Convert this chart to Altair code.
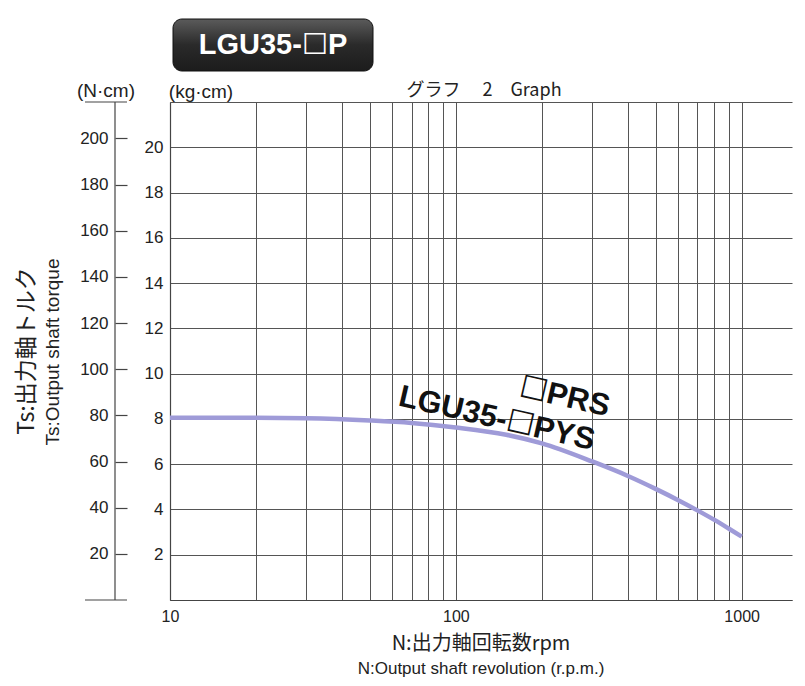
import altair as alt
import pandas as pd

# ---- data ----
rpm = [10, 20, 30, 50, 70, 100, 150, 200, 300, 400, 500, 600, 700, 800, 900, 1000]
torque_kgcm = [8.05, 8.05, 8.03, 7.93, 7.82, 7.62, 7.30, 6.92, 6.12, 5.48, 4.91,
               4.41, 3.96, 3.55, 3.16, 2.80]

x_grid = [10, 20, 30, 40, 50, 60, 70, 80, 90,
          100, 200, 300, 400, 500, 600, 700, 800, 900, 1000]
x_labels = [10, 100, 1000]
kg_ticks = [0, 2, 4, 6, 8, 10, 12, 14, 16, 18, 20, 22]
ncm_ticks = [20, 40, 60, 80, 100, 120, 140, 160, 180, 200]

KG_TO_NCM = 9.80665
Y_MAX = 22
X_DOMAIN = [10, 1500]

W, H = 622, 498
LAT = "Liberation Sans, DejaVu Sans, Noto Sans CJK JP"
JP = "Noto Sans CJK JP, Liberation Sans"
INK = "#222222"
AX = "#444444"

df = pd.DataFrame({"rpm": rpm, "torque": torque_kgcm})
one = pd.DataFrame({"_": [0]})

xscale = alt.Scale(type="log", domain=X_DOMAIN, nice=False)
yscale = alt.Scale(domain=[0, Y_MAX], nice=False, zero=False)

label_expr_x = " || ".join(f"datum.value == {v}" for v in x_labels)

curve = alt.Chart(df).mark_line(
    color="#9f9bd8", strokeWidth=4.5, interpolate="monotone"
).encode(
    x=alt.X("rpm:Q", scale=xscale, axis=alt.Axis(
        values=x_grid, grid=True, gridColor="#555555", gridWidth=1,
        ticks=False, domainColor=AX, domainWidth=1.2, format="d",
        labelExpr=f"({label_expr_x}) ? datum.label : ''",
        labelOverlap=False, labelFlush=False, labelBound=False,
        labelFont=LAT, labelFontSize=16, labelColor=INK, labelPadding=8,
        title=None)),
    y=alt.Y("torque:Q", scale=yscale, axis=alt.Axis(
        values=kg_ticks, grid=True, gridColor="#555555", gridWidth=1,
        ticks=False, domainColor=AX, domainWidth=1.2,
        labelExpr=f"datum.value == 0 || datum.value == {Y_MAX} ? '' : datum.label",
        labelOverlap=False, labelFont=LAT, labelFontSize=17, labelColor=INK,
        labelPadding=7, title=None)),
)

def text(t, x, y, size, font=LAT, weight="normal", angle=0, color=INK, align="center"):
    return alt.Chart(one).mark_text(
        text=t, font=font, fontSize=size, fontWeight=weight, angle=angle,
        color=color, align=align, baseline="middle"
    ).encode(x=alt.value(x), y=alt.value(y))

def rule(x, x2, y, y2, color=AX, width=1.2):
    return alt.Chart(one).mark_rule(color=color, strokeWidth=width).encode(
        x=alt.value(x), x2=alt.value(x2), y=alt.value(y), y2=alt.value(y2))

# curve labels (placed in data coordinates)
lab_pys = alt.Chart(one).mark_text(
    text="LGU35-☐PYS", font=LAT, fontSize=31, fontWeight="bold", angle=13,
    color="#111111", align="center", baseline="middle"
).encode(x=alt.datum(139), y=alt.datum(8.0))
lab_prs = alt.Chart(one).mark_text(
    text="☐PRS", font=LAT, fontSize=31, fontWeight="bold", angle=13,
    color="#111111", align="center", baseline="middle"
).encode(x=alt.datum(240), y=alt.datum(8.95))

badge_fill = alt.Gradient(
    gradient="linear",
    stops=[alt.GradientStop(color="#5b5b5b", offset=0),
           alt.GradientStop(color="#2a2a2a", offset=0.5),
           alt.GradientStop(color="#1c1c1c", offset=1)],
    x1=0, x2=0, y1=0, y2=1)
badge = alt.Chart(one).mark_rect(
    cornerRadius=9, fill=badge_fill, stroke="#111111", strokeWidth=1
).encode(x=alt.value(3), x2=alt.value(203), y=alt.value(-83), y2=alt.value(-31))
badge_text = text("LGU35-☐P", 103, -57, 29, weight="bold", color="#ffffff")

decor = [
    rule(-55, -55, 0, H),          # N·cm axis line
    rule(-85, -43, 0, 0),          # top mark under (N·cm)
    rule(-85, -43, H, H),          # bottom mark
    text("(N·cm)", -64, -11, 19),
    text("(kg·cm)", 31, -10, 19),
    text("グラフ　 2　Graph", 314, -11, 18, font=JP),
    text("Ts:出力軸トルク", -143, H / 2, 23, font=JP, angle=270),
    text("Ts:Output shaft torque", -117, H / 2 + 1, 19, angle=270),
    text("N:出力軸回転数rpm", W / 2, 542, 20, font=JP),
    text("N:Output shaft revolution (r.p.m.)", W / 2, 567, 17),
    badge, badge_text,
]

main = alt.layer(curve, lab_pys, lab_prs, *decor)

ncm_df = pd.DataFrame({"ncm": ncm_ticks})
ncm = alt.Chart(ncm_df).mark_point(opacity=0).encode(
    y=alt.Y("ncm:Q",
            scale=alt.Scale(domain=[0, Y_MAX * KG_TO_NCM], nice=False, zero=False),
            axis=alt.Axis(orient="left", offset=43, values=ncm_ticks,
                          tickSize=12, tickColor=AX, tickWidth=1.2,
                          domain=False, grid=False, labelOverlap=False,
                          labelFont=LAT, labelFontSize=17, labelColor=INK,
                          labelPadding=7, title=None))
)

chart = alt.layer(main, ncm).resolve_scale(y="independent").properties(
    width=W, height=H,
    autosize=alt.AutoSizeParams(type="none"),
    padding={"left": 162, "top": 94, "right": 5, "bottom": 78},
    background="#ffffff",
).configure_view(stroke=None)

chart.save("out.html", embed_options={"renderer": "svg", "actions": False})
